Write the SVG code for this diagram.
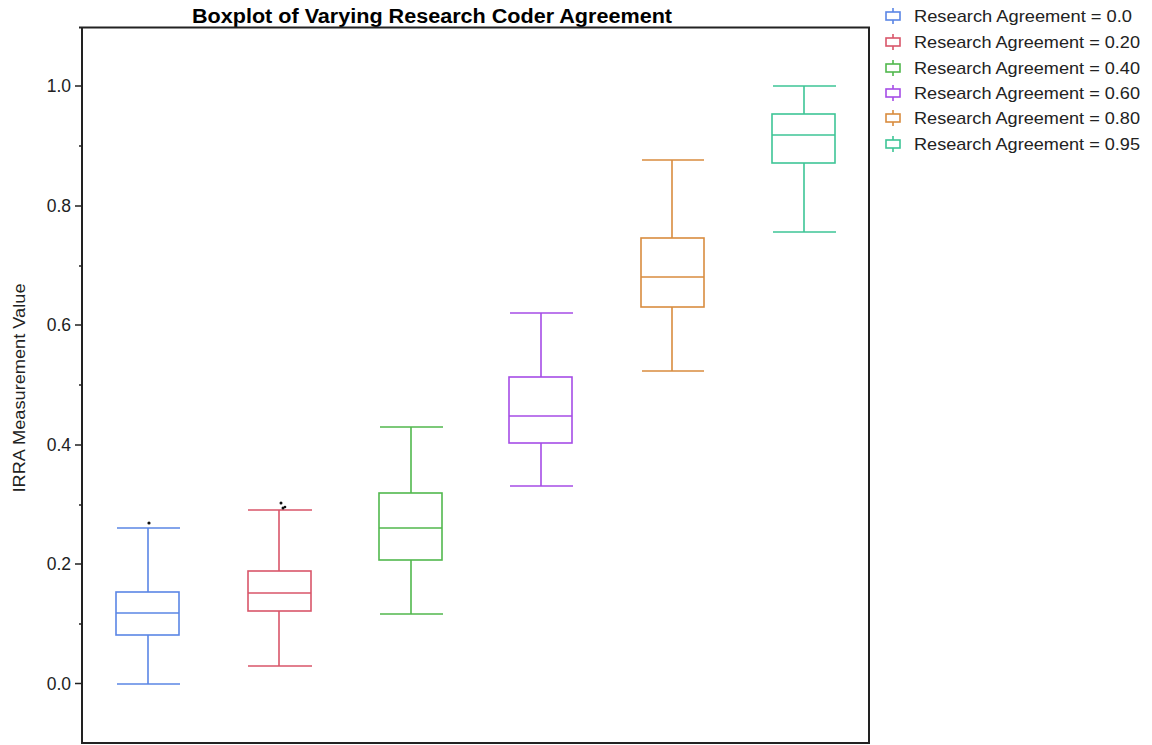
<svg xmlns="http://www.w3.org/2000/svg" width="1152" height="745" viewBox="0 0 1152 745">
<style>
text{font-family:"Liberation Sans",Arial,sans-serif;fill:#222}
.tick{font-size:17.5px;text-anchor:end}
.leg{font-size:17px}
.bx{fill:none;stroke-width:1.6}
.ax{stroke:#222;stroke-width:2;fill:none}
.tk{stroke:#222;stroke-width:1.6}
.b1{stroke:#5b86e5}.b2{stroke:#d9566a}.b3{stroke:#52b84e}.b4{stroke:#a64de6}.b5{stroke:#d98c3f}.b6{stroke:#3ec596}
</style>
<rect width="1152" height="745" fill="#fff"/>
<text x="192" y="23" font-size="20" font-weight="bold" textLength="480" lengthAdjust="spacingAndGlyphs" style="fill:#000">Boxplot of Varying Research Coder Agreement</text>
<g id="axes">
<path class="ax" d="M79 27.5H869V743H82V27"/>
<path class="tk" d="M75 86H82M75 206H82M75 325H82M75 445H82M75 564H82M75 683.5H82M79 146H82M79 266H82M79 385H82M79 505H82M79 624H82"/>
<text class="tick" x="71" y="92">1.0</text>
<text class="tick" x="71" y="212">0.8</text>
<text class="tick" x="71" y="331">0.6</text>
<text class="tick" x="71" y="451">0.4</text>
<text class="tick" x="71" y="570">0.2</text>
<text class="tick" x="71" y="690">0.0</text>
<text transform="translate(25 388) rotate(-90)" font-size="17" text-anchor="middle" textLength="209" lengthAdjust="spacingAndGlyphs">IRRA Measurement Value</text>
</g>
<g id="box1" class="bx b1">
<path d="M117 528H180M148 528V592M148 635V684M117 684H180M116 613H179"/>
<rect x="116" y="592" width="63" height="43"/>
</g>
<g id="box2" class="bx b2">
<path d="M248 510H312M279 510V571M279 611V666M248 666H312M248 593H311"/>
<rect x="248" y="571" width="63" height="40"/>
</g>
<g id="box3" class="bx b3">
<path d="M380 427H443M411 427V493M411 560V614M380 614H443M379 528H442"/>
<rect x="379" y="493" width="63" height="67"/>
</g>
<g id="box4" class="bx b4">
<path d="M510 313H573M541 313V377M541 443V486M510 486H573M509 416H572"/>
<rect x="509" y="377" width="63" height="66"/>
</g>
<g id="box5" class="bx b5">
<path d="M642 160H704M672 160V238M672 307V371M642 371H704M641 277H704"/>
<rect x="641" y="238" width="63" height="69"/>
</g>
<g id="box6" class="bx b6">
<path d="M773 86H836M804 86V114M804 163V232M773 232H836M772 135H835"/>
<rect x="772" y="114" width="63" height="49"/>
</g>
<g id="outliers" fill="#111">
<circle cx="149" cy="523" r="1.6"/>
<circle cx="281" cy="503" r="1.5"/>
<circle cx="283" cy="508" r="1.5"/>
<circle cx="285" cy="507" r="1.3"/>
</g>
<g id="legend">
<g class="bx b1"><path d="M893 8V12M893 20V24"/><rect x="886" y="12" width="14" height="8"/></g>
<g class="bx b2"><path d="M893 34V38M893 46V50"/><rect x="886" y="38" width="14" height="8"/></g>
<g class="bx b3"><path d="M893 60V64M893 72V76"/><rect x="886" y="64" width="14" height="8"/></g>
<g class="bx b4"><path d="M893 85V89M893 97V101"/><rect x="886" y="89" width="14" height="8"/></g>
<g class="bx b5"><path d="M893 110V114M893 122V126"/><rect x="886" y="114" width="14" height="8"/></g>
<g class="bx b6"><path d="M893 136V140M893 148V152"/><rect x="886" y="140" width="14" height="8"/></g>
<text class="leg" x="914" y="22" textLength="218" lengthAdjust="spacingAndGlyphs">Research Agreement = 0.0</text>
<text class="leg" x="914" y="48" textLength="226" lengthAdjust="spacingAndGlyphs">Research Agreement = 0.20</text>
<text class="leg" x="914" y="74" textLength="226" lengthAdjust="spacingAndGlyphs">Research Agreement = 0.40</text>
<text class="leg" x="914" y="99" textLength="226" lengthAdjust="spacingAndGlyphs">Research Agreement = 0.60</text>
<text class="leg" x="914" y="124" textLength="226" lengthAdjust="spacingAndGlyphs">Research Agreement = 0.80</text>
<text class="leg" x="914" y="150" textLength="226" lengthAdjust="spacingAndGlyphs">Research Agreement = 0.95</text>
</g>
</svg>
